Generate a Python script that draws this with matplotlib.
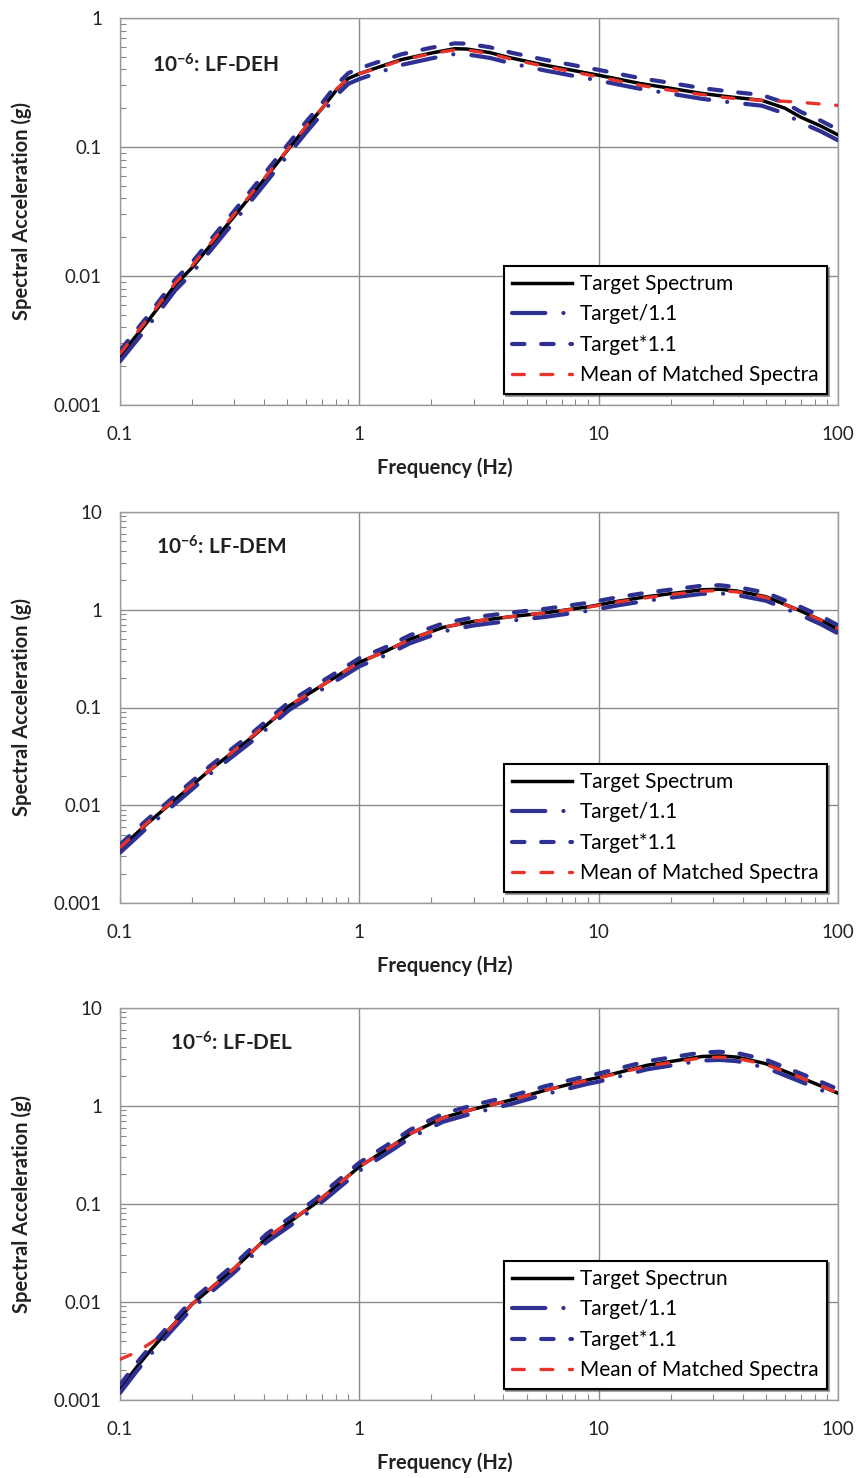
import numpy as np
import matplotlib
matplotlib.use("Agg")
import matplotlib.pyplot as plt
from matplotlib.ticker import LogLocator, FixedLocator, FixedFormatter, NullFormatter

plt.rcParams['font.family'] = ['Lato', 'DejaVu Sans']
plt.rcParams['mathtext.fontset'] = 'custom'
plt.rcParams['mathtext.rm'] = 'Lato'
plt.rcParams['mathtext.bf'] = 'Lato:bold'
plt.rcParams['lines.scale_dashes'] = False

# ---- panel 1: LF-DEH ----
freq_deh = [0.1, 0.13, 0.17, 0.2, 0.3, 0.4, 0.5, 0.6, 0.7, 0.8, 0.9, 1.0, 1.2, 1.5, 2.0,
            2.5, 2.8, 3.5, 4.3, 6.0, 10, 15, 20, 27, 35, 48, 60, 70, 85, 100]
target_deh = [0.0024, 0.0044, 0.0085, 0.0116, 0.029, 0.056, 0.094, 0.143, 0.20, 0.275, 0.34, 0.37,
              0.415, 0.476, 0.535, 0.578, 0.575, 0.54, 0.49, 0.43, 0.36, 0.31, 0.285, 0.26, 0.245,
              0.23, 0.20, 0.17, 0.145, 0.124]
mean_deh = [0.0025, 0.0046, 0.0088, 0.012, 0.030, 0.057, 0.095, 0.145, 0.20, 0.28, 0.34, 0.37,
            0.41, 0.47, 0.53, 0.565, 0.565, 0.53, 0.48, 0.42, 0.35, 0.30, 0.275, 0.255, 0.24,
            0.23, 0.226, 0.222, 0.215, 0.21]

# ---- panel 2: LF-DEM ----
freq_dem = [0.1, 0.13, 0.17, 0.238, 0.35, 0.51, 0.73, 1.0, 1.3, 1.63, 2.24, 3.0, 4.3, 6.0,
            9.0, 12, 15.9, 20, 27, 32, 38, 50, 68, 85, 100]
target_dem = [0.0036, 0.0065, 0.0114, 0.023, 0.048, 0.104, 0.18, 0.29, 0.38, 0.50, 0.66, 0.76,
              0.85, 0.93, 1.07, 1.22, 1.36, 1.46, 1.6, 1.62, 1.55, 1.36, 1.0, 0.78, 0.63]
mean_dem = [0.0037, 0.0066, 0.0116, 0.023, 0.049, 0.105, 0.18, 0.29, 0.38, 0.50, 0.66, 0.76,
            0.85, 0.93, 1.06, 1.2, 1.33, 1.43, 1.55, 1.57, 1.52, 1.34, 1.0, 0.78, 0.64]

# ---- panel 3: LF-DEL ----
freq_del = [0.1, 0.118, 0.134, 0.155, 0.2, 0.3, 0.41, 0.5, 0.65, 0.8, 1.0, 1.39, 1.63, 2.24,
            3.0, 4.3, 6.0, 9.0, 10, 15.9, 27, 32, 38, 50, 68, 85, 100]
target_del = [0.0013, 0.0022, 0.0032, 0.0048, 0.0095, 0.022, 0.045, 0.063, 0.1, 0.152, 0.24,
              0.40, 0.52, 0.76, 0.93, 1.15, 1.45, 1.85, 1.95, 2.6, 3.2, 3.25, 3.15, 2.7, 2.0,
              1.6, 1.35]
mean_del = [0.0026, 0.0031, 0.0038, 0.0048, 0.0095, 0.022, 0.045, 0.064, 0.1, 0.152, 0.24,
            0.40, 0.52, 0.76, 0.93, 1.15, 1.45, 1.83, 1.93, 2.55, 3.1, 3.15, 3.05, 2.65, 2.0,
            1.6, 1.36]

panel_titles = ["LF-DEH", "LF-DEM", "LF-DEL"]
target_labels = ["Target Spectrum", "Target Spectrum", "Target Spectrun"]
ytick_vals = [[0.001, 0.01, 0.1, 1], [0.001, 0.01, 0.1, 1, 10], [0.001, 0.01, 0.1, 1, 10]]
ytick_text = [["0.001", "0.01", "0.1", "1"], ["0.001", "0.01", "0.1", "1", "10"],
              ["0.001", "0.01", "0.1", "1", "10"]]
xtick_vals = [0.1, 1, 10, 100]
xtick_text = ["0.1", "1", "10", "100"]

panels = [(freq_deh, target_deh, mean_deh), (freq_dem, target_dem, mean_dem),
          (freq_del, target_del, mean_del)]

blue = '#2e3192'
red = '#e8332a'

fig = plt.figure(figsize=(8.62, 14.78), dpi=100)
W, H = 862, 1478
boxes = [(18, 405), (512, 903), (1008, 1400)]
title_pos = [(0.045, 0.879), (0.05, 0.91), (0.07, 0.91)]

for i, (freq, target, mean) in enumerate(panels):
    top, bot = boxes[i]
    ax = fig.add_axes([120 / W, 1 - bot / H, (838 - 120) / W, (bot - top) / H])
    f = np.array(freq)
    t = np.array(target)

    ax.plot(f, t, color='black', lw=2.5, label=target_labels[i], zorder=3)
    ax.plot(f, t / 1.1, color=blue, lw=3, dashes=(24, 13, 0.1, 13),
            dash_capstyle='round', label="Target/1.1", zorder=4)
    ax.plot(f, t * 1.1, color=blue, lw=3, dashes=(9, 12),
            dash_capstyle='round', label="Target*1.1", zorder=4)
    ax.plot(f, mean, color=red, lw=2.4, dashes=(8.5, 12),
            dash_capstyle='round', label="Mean of Matched Spectra", zorder=5)

    ax.set_xscale('log')
    ax.set_yscale('log')
    ax.set_xlim(0.1, 100)
    ax.set_ylim(ytick_vals[i][0], ytick_vals[i][-1])

    ax.xaxis.set_major_locator(FixedLocator(xtick_vals))
    ax.xaxis.set_major_formatter(FixedFormatter(xtick_text))
    ax.yaxis.set_major_locator(FixedLocator(ytick_vals[i]))
    ax.yaxis.set_major_formatter(FixedFormatter(ytick_text[i]))
    ax.xaxis.set_minor_locator(LogLocator(base=10, subs=np.arange(2, 10)))
    ax.yaxis.set_minor_locator(LogLocator(base=10, subs=np.arange(2, 10)))
    ax.xaxis.set_minor_formatter(NullFormatter())
    ax.yaxis.set_minor_formatter(NullFormatter())

    ax.tick_params(which='major', direction='in', length=0, labelsize=13.5,
                   colors='#222222', pad=15)
    ax.tick_params(axis='y', which='major', pad=13)
    ax.tick_params(which='minor', direction='in', length=4, color='#888888', width=0.8)
    ax.grid(True, which='major', color='#8a8a8a', lw=1)
    for sp in ax.spines.values():
        sp.set_color('#9a9a9a')
        sp.set_linewidth(1)

    ax.set_xlabel("Frequency (Hz)", fontsize=14.5, fontweight='bold', color='#222222')
    ax.set_ylabel("Spectral Acceleration (g)", fontsize=14.5, fontweight='bold', color='#222222')
    ax.xaxis.set_label_coords(0.453, -0.135)
    ax.yaxis.set_label_coords(-0.122, 0.5)

    ax.text(title_pos[i][0], title_pos[i][1], r"$\mathbf{10^{-6}}$: " + panel_titles[i],
            transform=ax.transAxes, fontsize=15, fontweight='bold', color='#222222',
            va='center', ha='left')

    leg = ax.legend(loc='lower right', fontsize=15, handlelength=2.9, frameon=True,
                    fancybox=False, shadow=True, borderaxespad=0.55, labelspacing=0.5,
                    handletextpad=0.35, borderpad=0.4)
    leg.get_frame().set_edgecolor('black')
    leg.get_frame().set_linewidth(1.5)

fig.savefig("out.png", dpi=100, facecolor='white')
